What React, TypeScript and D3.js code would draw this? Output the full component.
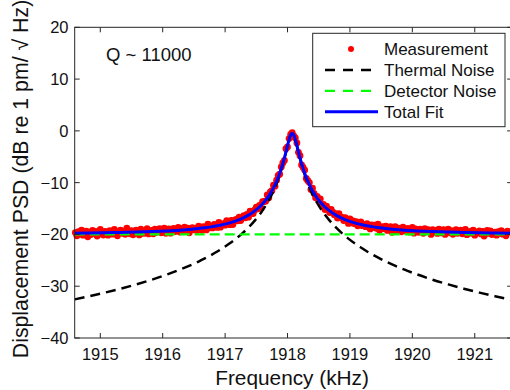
import * as d3 from "d3"

const xTicks = [1915, 1916, 1917, 1918, 1919, 1920, 1921]
const yTicks = [-40, -30, -20, -10, 0, 10, 20]

// frequency grid for the model curves (kHz)
const curveFreq = [
  1914.59, 1914.825, 1915.075, 1915.325, 1915.575, 1915.825, 1916.075, 1916.275, 1916.475, 1916.575,
  1916.675, 1916.775, 1916.875, 1916.975, 1917.075, 1917.175, 1917.275, 1917.375, 1917.475, 1917.575,
  1917.675, 1917.725, 1917.775, 1917.825, 1917.875, 1917.925, 1917.975, 1918.0, 1918.025, 1918.05,
  1918.075,
  1918.1, 1918.125, 1918.15, 1918.175, 1918.225, 1918.275, 1918.325, 1918.375, 1918.425, 1918.475,
  1918.575, 1918.675, 1918.775, 1918.875, 1918.975, 1919.075, 1919.175, 1919.275, 1919.375, 1919.475,
  1919.575, 1919.675, 1919.875, 1920.075, 1920.325, 1920.575, 1920.825, 1921.075, 1921.325, 1921.6,
]

const thermalDb = [
  -32.54, -31.93, -31.24, -30.48, -29.65, -28.74, -27.72, -26.8, -25.79, -25.23,
  -24.63, -23.99, -23.3, -22.53, -21.72, -20.81, -19.8, -18.66, -17.34, -15.8,
  -13.93, -12.83, -11.59, -10.15, -8.47, -6.48, -4.15, -2.9, -1.74, -0.84,
  -0.5,
  -0.84, -1.74, -2.9, -4.15, -6.48, -8.47, -10.15, -11.59, -12.83, -13.93,
  -15.8, -17.34, -18.66, -19.8, -20.81, -21.72, -22.53, -23.3, -23.99, -24.63,
  -25.23, -25.79, -26.8, -27.72, -28.74, -29.65, -30.48, -31.24, -31.93, -32.64,
]

const fitDb = [
  -19.76, -19.73, -19.69, -19.62, -19.55, -19.45, -19.32, -19.18, -18.98, -18.86,
  -18.72, -18.54, -18.33, -18.07, -17.77, -17.38, -16.89, -16.27, -15.46, -14.4,
  -12.97, -12.07, -11.0, -9.72, -8.18, -6.29, -4.04, -2.82, -1.68, -0.79,
  -0.45,
  -0.79, -1.68, -2.82, -4.04, -6.29, -8.18, -9.72, -11.0, -12.07, -12.97,
  -14.4, -15.46, -16.27, -16.89, -17.38, -17.77, -18.07, -18.33, -18.54, -18.72,
  -18.86, -18.98, -19.18, -19.32, -19.45, -19.55, -19.62, -19.69, -19.73, -19.77,
]

const detectorFreq = [1914.59, 1921.6]
const detectorDb = [-20, -20]

// measured sweep: 1914.6 kHz, 25 Hz steps
const measStart = 1914.6
const measStep = 0.025
const measDb = [
  -19.65, -20.25, -19.45, -19.95, -19.15, -20.15, -19.75, -19.35, -20.45, -19.55,
  -20.01, -19.21, -19.81, -19.41, -20.31, -19.61, -19.01, -19.91, -20.11, -19.41,
  -19.65, -20.15, -19.25, -19.45, -19.95, -19.05, -19.75, -20.25, -19.45, -19.15,
  -19.78, -19.48, -19.98, -18.78, -19.58, -19.88, -19.28, -20.08, -19.38, -19.18,
  -19.6, -20.1, -19.0, -19.4, -19.8, -19.3, -18.9, -19.9, -19.5, -19.2,
  -19.89, -18.99, -19.59, -19.29, -18.89, -19.69, -19.49, -18.79, -19.79, -19.19,
  -18.95, -19.75, -19.15, -18.85, -19.45, -19.25, -18.65, -19.55,
  -18.88, -19.48, -18.58, -19.18, -18.78, -19.68, -18.88, -18.68,
  -19.12, -18.82, -19.22, -18.42,
  -18.79, -19.19, -18.49, -18.59,
  -19.13, -18.03, -18.73, -18.53,
  -18.74, -18.04, -18.24, -18.64,
  -17.7, -18.6, -18.1, -17.9,
  -18.22, -17.32, -17.92, -18.12,
  -17.28, -18.08, -17.28, -17.08, -17.37, -16.65, -17.32, -16.79, -16.35, -16.8,
  -16.14, -16.67, -15.49, -15.89, -15.98, -15.26, -14.72, -15.06, -14.39, -14.9,
  -13.68, -13.64, -13.57, -12.37, -12.94, -11.77, -11.56, -10.5, -10.69, -9.52,
  -8.58, -8.38, -6.97, -6.19, -5.7, -3.44, -3.12, -1.48, -0.69,
  -0.35,
  -0.99, -1.38, -2.32, -4.14, -4.8, -6.59, -7.07, -7.58, -9.18,
  -9.62, -9.99, -11.3, -11.06, -12.07, -12.94, -12.67, -13.27, -13.14, -14.28,
  -14.2, -15.19, -14.56, -15.12, -15.76, -15.18, -15.69, -16.19, -15.97, -16.84,
  -16.0, -16.75, -16.69, -17.32, -16.75, -17.17, -17.88, -16.98, -17.78, -17.38,
  -17.92, -17.52, -18.32, -17.72,
  -17.6, -18.3, -18.1, -18.5,
  -17.94, -18.24, -18.94, -18.14,
  -18.63, -18.23, -18.83, -18.03,
  -19.19, -18.69, -18.49, -18.89,
  -18.42, -19.22, -18.72, -18.52,
  -19.58, -18.98, -18.48, -19.28, -18.78, -19.08, -19.48, -18.58,
  -19.05, -19.35, -18.85, -19.55, -19.15, -18.65, -19.75, -18.95,
  -19.39, -19.59, -18.99, -19.29, -19.79, -18.89, -19.49, -19.09, -19.19, -19.99,
  -19.1, -19.5, -19.2, -19.8, -19.0, -19.7, -19.4, -19.1, -20.0, -19.3,
  -18.98, -19.68, -19.28, -19.98, -19.58, -19.08, -19.78, -19.38, -19.18, -19.88,
  -19.55, -19.05, -20.05, -19.45, -19.75, -19.35, -19.15, -20.15, -19.55, -19.65,
  -19.31, -19.91, -19.41, -20.31, -19.51, -19.21, -19.81, -19.31, -20.01, -19.61,
  -19.55, -20.15, -19.45, -19.75, -19.25, -19.95, -19.65, -20.25, -19.35, -19.55,
]

const legendLabels = ["Measurement", "Thermal Noise", "Detector Noise", "Total Fit"]

const W = 510
const H = 390
const left = 74.7
const right = 512.2
const top = 27.3
const bottom = 338
const axisColor = "#262626"
const font = "'Liberation Sans', Arial, sans-serif"

export default function App() {
  const x = d3.scaleLinear().domain([1914.59, 1921.6]).range([left, right])
  const y = d3.scaleLinear().domain([-40, 20]).range([bottom, top])

  const line = d3
    .line<[number, number]>()
    .x((d) => x(d[0]))
    .y((d) => y(d[1]))
    .curve(d3.curveMonotoneX)

  const thermalPath = line(curveFreq.map((f, i) => [f, thermalDb[i]]))
  const fitPath = line(curveFreq.map((f, i) => [f, fitDb[i]]))
  const detectorPath = line(detectorFreq.map((f, i) => [f, detectorDb[i]]))

  const legX = 312.7
  const legY = 33.3
  const rowY = (i: number) => 49 + i * 20.9

  return (
    <svg width={W} height={H} style={{ position: "absolute", left: 0, top: 0, background: "#fff" }} fontFamily={font}>
      <defs>
        <clipPath id="plotClip">
          <rect x={left} y={top} width={right - left} height={bottom - top} />
        </clipPath>
      </defs>

      {measDb.map((v, i) => (
        <circle key={i} cx={x(measStart + i * measStep)} cy={y(v)} r={3.4} fill="#ff0000" />
      ))}

      <g clipPath="url(#plotClip)" fill="none">
        <path d={thermalPath ?? ""} stroke="#000" strokeWidth={2.5} strokeDasharray="10,6" />
        <path d={detectorPath ?? ""} stroke="#00ff00" strokeWidth={2.2} strokeDasharray="10,5" />
        <path d={fitPath ?? ""} stroke="#0000ff" strokeWidth={3} />
      </g>

      <rect x={left} y={top} width={right - left} height={bottom - top} fill="none" stroke={axisColor} strokeWidth={1} />

      {xTicks.map((t) => (
        <g key={t}>
          <line x1={x(t)} x2={x(t)} y1={bottom} y2={bottom - 5} stroke={axisColor} />
          <line x1={x(t)} x2={x(t)} y1={top} y2={top + 5} stroke={axisColor} />
          <text x={x(t)} y={359.5} textAnchor="middle" fontSize={16.5} fill="#111">
            {t}
          </text>
        </g>
      ))}

      {yTicks.map((t) => (
        <g key={t}>
          <line x1={left} x2={left + 5} y1={y(t)} y2={y(t)} stroke={axisColor} />
          <line x1={right} x2={right - 5} y1={y(t)} y2={y(t)} stroke={axisColor} />
          <text x={68.5} y={y(t)} dy="0.36em" textAnchor="end" fontSize={16.5} fill="#111">
            {t < 0 ? `\u2212${Math.abs(t)}` : t}
          </text>
        </g>
      ))}

      <text x={(left + 509.5) / 2} y={385} textAnchor="middle" fontSize={20.8} fill="#111">
        Frequency (kHz)
      </text>
      <text transform="translate(27.5,179) rotate(-90)" textAnchor="middle" fontSize={21.3} fill="#111">
        Displacement PSD (dB re 1 pm/ √ Hz)
      </text>

      <text x={106} y={61} fontSize={18.5} fill="#111">
        Q ~ 11000
      </text>

      {/* legend */}
      <rect x={legX} y={legY} width={192.3} height={93.4} fill="#fff" stroke={axisColor} strokeWidth={1} />
      <circle cx={351} cy={rowY(0)} r={3} fill="#ff0000" />
      <line x1={325} x2={378} y1={rowY(1)} y2={rowY(1)} stroke="#000" strokeWidth={2.5} strokeDasharray="10,8" />
      <line x1={325} x2={378} y1={rowY(2)} y2={rowY(2)} stroke="#00ff00" strokeWidth={2.2} strokeDasharray="10,8" />
      <line x1={325} x2={378} y1={rowY(3)} y2={rowY(3)} stroke="#0000ff" strokeWidth={3} />
      {legendLabels.map((l, i) => (
        <text key={l} x={384} y={rowY(i)} dy="0.36em" fontSize={17} fill="#111">
          {l}
        </text>
      ))}
    </svg>
  )
}
